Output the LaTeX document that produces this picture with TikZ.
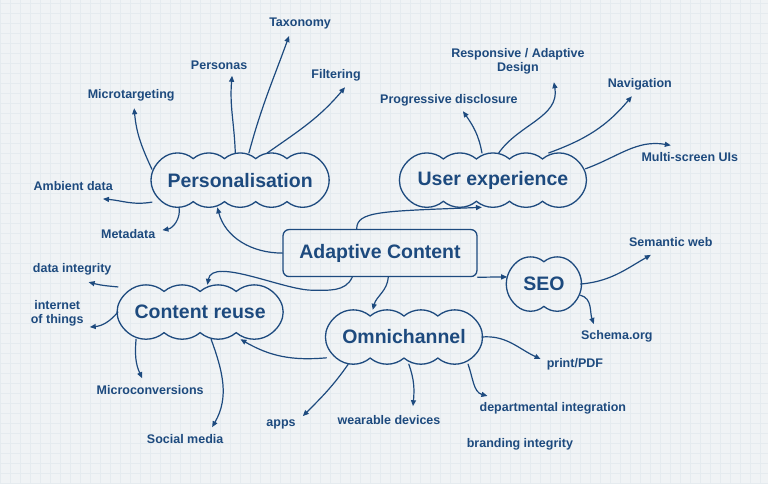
\documentclass[tikz,border=0pt]{standalone}
\usepackage{fontspec}
\setmainfont{Liberation Sans}
\usetikzlibrary{arrows.meta,calc}
\definecolor{ink}{HTML}{1D4A7E}
\definecolor{papel}{HTML}{F0F3F5}
\definecolor{cuadro}{HTML}{E5EBEF}
% Contorno festoneado alrededor de un nodo: #1 nombre, #2 festones.
\newcommand\contornonube[2]{%
  \draw[borde] let \p1=(#1.north west), \p2=(#1.south east),
      \n1={(\x2-\x1-20pt)/#2}, \n2={\n1/1.2856}, \n3={0.234*\n2} in
    (\x1+10pt,\y1-\n3)
    foreach \j in {1,...,#2} {arc[start angle=130,end angle=50,radius=\n2]}
    .. controls +(-40:19) and +(40:19) .. (\x2-10pt,\y2+\n3)
    foreach \j in {1,...,#2} {arc[start angle=-50,end angle=-130,radius=\n2]}
    .. controls +(140:19) and +(220:19) .. (\x1+10pt,\y1-\n3) -- cycle;
}
\begin{document}
\begin{tikzpicture}[x=1pt,y=1pt,
    every node/.style={text=ink},
    nube/.style={minimum width=#1, minimum height=54pt, inner sep=0pt,
      font=\fontsize{19.5}{21}\selectfont\bfseries},
    caja/.style={draw=ink, line width=1.3pt, rounded corners=6pt,
      minimum width=194pt, minimum height=47pt,
      font=\fontsize{19.5}{21}\selectfont\bfseries},
    etiqueta/.style={inner sep=0pt, align=center,
      font=\fontsize{12.5}{14}\selectfont\bfseries},
    borde/.style={draw=ink, line width=1.3pt},
    flecha/.style={draw=ink, line width=1.2pt, line cap=round,
      -{Triangle[length=6pt,width=5pt]}}]
    % Papel cuadriculado.
    \fill[papel] (0,0) rectangle (768,483);
    \draw[cuadro, line width=.5pt] (0,0) grid[step=10pt] (768,483);
    \useasboundingbox (0,0) rectangle (768,483);

    % Nodos principales.
    \node[caja] (main) at (380,230) {Adaptive Content};
    \node[nube=176pt] (pers) at (240,303) {Personalisation};
    \node[nube=185pt] (ux) at (493,303) {User experience};
    \node[nube=164pt] (reuse) at (200,171) {Content reuse};
    \node[nube=155pt] (omni) at (404,146) {Omnichannel};
    \node[nube=73pt] (seo) at (544,199) {SEO};
    \foreach \cl/\nb in {pers/5,ux/5,reuse/4,omni/4,seo/2} {
        \contornonube{\cl}{\nb}
    }

    % Etiquetas.
    \node[etiqueta] (taxo) at (300,460) {Taxonomy};
    \node[etiqueta] (personas) at (219,418) {Personas};
    \node[etiqueta] (filtering) at (336,408) {Filtering};
    \node[etiqueta] (microt) at (131,388) {Microtargeting};
    \node[etiqueta] (ambient) at (73,297) {Ambient data};
    \node[etiqueta] (metadata) at (128,249) {Metadata};
    \node[etiqueta] (respons) at (518,422) {Responsive / Adaptive\\Design};
    \node[etiqueta] (progress) at (449,383) {Progressive disclosure};
    \node[etiqueta] (navig) at (640,399) {Navigation};
    \node[etiqueta] (multi) at (690,326) {Multi-screen UIs};
    \node[etiqueta] (semweb) at (671,241) {Semantic web};
    \node[etiqueta] (schema) at (617,147) {Schema.org};
    \node[etiqueta] (print) at (575,119) {print/PDF};
    \node[etiqueta] (dept) at (553,75) {departmental integration};
    \node[etiqueta] (brand) at (520,39) {branding integrity};
    \node[etiqueta] (wearable) at (389,63) {wearable devices};
    \node[etiqueta] (apps) at (281,59) {apps};
    \node[etiqueta] (social) at (185,44) {Social media};
    \node[etiqueta] (mconv) at (150,93) {Microconversions};
    \node[etiqueta] (dataint) at (72,214) {data integrity};
    \node[etiqueta] (iot) at (57,170) {internet\\of things};

    % Flechas desde Personalisation.
    \draw[flecha] (pers.173) to[out=115,in=-85] ([xshift=3pt,yshift=-7pt]microt.south);
    \draw[flecha] (pers.100) to[out=92,in=-95] ([xshift=13pt,yshift=-6pt]personas.south);
    \draw[flecha] (pers.72) to[out=75,in=-110] ([xshift=-11pt,yshift=-7pt]taxo.south);
    \draw[flecha] (pers.45) to[out=35,in=-130] ([xshift=9pt,yshift=-6pt]filtering.south);
    \draw[flecha] (pers.194) to[out=190,in=-5] ([xshift=-10pt,yshift=-8pt]ambient.south east);
    \draw[flecha] (pers.204) to[out=-80,in=10] ([xshift=7pt,yshift=4pt]metadata.east);

    % Flechas desde Adaptive Content.
    \draw[flecha] (main.west) to[out=180,in=-75] (pers.230);
    \draw[flecha] (main.134) .. controls +(0,18) and +(-100,-4) .. (ux.248);
    \draw[flecha] (main.221) to[out=-115,in=0] ++(-40,-13)
        to[out=180,in=80,looseness=.7] (reuse.75);
    \draw[flecha] (main.-71) to[out=-95,in=75] (omni.139);
    \draw[flecha] (main.south east) to[out=0,in=180] (seo.169);

    % Flechas desde User experience.
    \draw[flecha] (ux.112) to[out=100,in=-55] ([xshift=14pt,yshift=-5pt]progress.south);
    \draw[flecha] (ux.78) to[out=55,in=-80] ([xshift=36pt,yshift=-8pt]respons.south);
    \draw[flecha] (ux.26) to[out=20,in=-130] ([xshift=-8pt,yshift=-6pt]navig.south);
    \draw[flecha] (ux.7) to[out=20,in=170] ([xshift=-19pt,yshift=7pt]multi.north);

    % Flechas desde SEO.
    \draw[flecha] (seo.east) to[out=5,in=-150] ([xshift=-20pt,yshift=-8pt]semweb.south);
    \draw[flecha] (seo.-17) to[out=-15,in=110] ([xshift=-23pt,yshift=6pt]schema.north);

    % Flechas desde Omnichannel.
    \draw[flecha] (omni.east) to[out=5,in=155] ([xshift=-6pt,yshift=5pt]print.west);
    \draw[flecha] (omni.-23) to[out=-70,in=165] ([xshift=8pt,yshift=6pt]dept.north west);
    \draw[flecha] (omni.-80) to[out=-70,in=85] ([xshift=24pt,yshift=9pt]wearable.north);
    \draw[flecha] (omni.206) to[out=-125,in=45] ([xshift=7pt,yshift=3pt]apps.north east);
    \draw[flecha] (omni.195) to[out=185,in=-30] (reuse.-34);

    % Flechas desde Content reuse.
    \draw[flecha] (reuse.163) to[out=175,in=-15] ([xshift=-23pt,yshift=-7pt]dataint.south east);
    \draw[flecha] (reuse.west) to[out=-130,in=5] ([xshift=6pt,yshift=-14pt]iot.east);
    \draw[flecha] (reuse.203) to[out=-95,in=115] ([xshift=-8pt,yshift=7pt]mconv.north);
    \draw[flecha] (reuse.-68) to[out=-70,in=60] ([xshift=27pt,yshift=7pt]social.north);
\end{tikzpicture}
\end{document}
